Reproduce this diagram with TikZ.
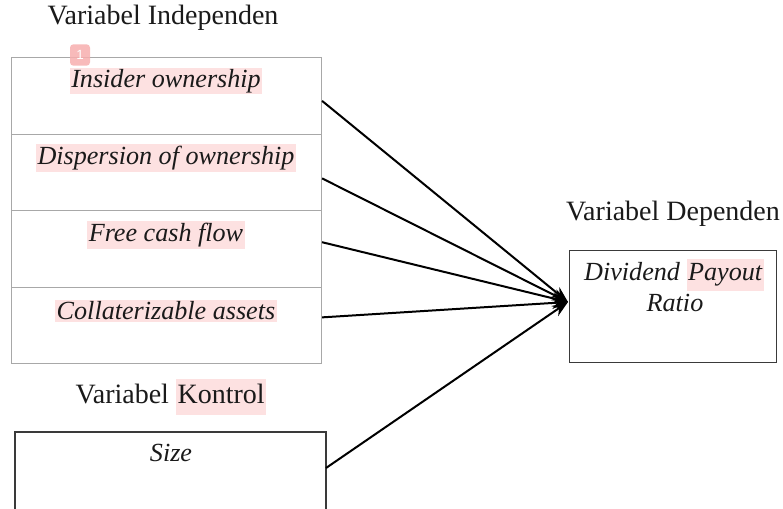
\documentclass[tikz,border=0pt]{standalone}
\usepackage{fontspec}
\setmainfont{Liberation Serif}
\setsansfont{Liberation Sans}
\usetikzlibrary{arrows.meta,calc}
\definecolor{hl}{HTML}{FDE1E1}
\definecolor{mk}{HTML}{F7AFAF}
\definecolor{gline}{HTML}{A8A8A8}
\definecolor{dline}{HTML}{3A3A3A}
\definecolor{txt}{HTML}{1A1A1A}
\newcommand\hlword[1]{{\setlength{\fboxsep}{1.2pt}\colorbox{hl}{\strut #1}}}
\tikzset{
  head/.style={font=\fontsize{21pt}{24pt}\selectfont, text=txt, inner sep=0pt},
  itl/.style={font=\fontsize{19.6pt}{22pt}\selectfont\itshape, text=txt, inner sep=1.2pt},
  hilite/.style={itl, fill=hl},
  gbox/.style={draw=gline, line width=0.8pt, minimum width=232.5pt, minimum height=57.5pt, anchor=north west, inner sep=0pt},
  dbox/.style={draw=dline, line width=0.9pt, anchor=north west, inner sep=0pt},
  conn/.style={line width=1.5pt, -{Stealth[length=12pt,width=9pt]}, black},
}
\begin{document}
\begin{tikzpicture}[x=0.75pt,y=-0.75pt]
\useasboundingbox (0,0) rectangle (783,508);
\fill[white] (0,0) rectangle (783,508);
\clip (0,0) rectangle (783,508);
% headings
\node[head] (hInd) at (163,18) {Variabel Independen};
\node[head] (hDep) at (673,214) {Variabel Dependen};
\node[head] (hKon) at (171,397) {Variabel \hlword{Kontrol}};
% independent stack
\node[gbox] (b1) at (11,57) {};
\node[gbox] (b2) at (11,133.5) {};
\node[gbox] (b3) at (11,210) {};
\node[gbox] (b4) at (11,286.5) {};
\node[hilite] (t1) at (166,81) {Insider ownership};
\node[hilite] (t2) at (166,158) {Dispersion of ownership};
\node[hilite] (t3) at (166,235) {Free cash flow};
\node[hilite] (t4) at (166,311) {Collaterizable assets};
% marker
\node[fill=mk, rounded corners=2.5pt, minimum width=15pt, minimum height=16pt, inner sep=0pt, text=white, font=\sffamily\fontsize{10pt}{10pt}\selectfont, opacity=0.85, text opacity=1] (m1) at (80,55) {1};
% control box (open at bottom, continues past page)
\coordinate (sNW) at (15,432);
\coordinate (sNE) at (326,432);
\draw[draw=dline, line width=0.9pt] (15,530) -- (sNW) -- (sNE) -- (326,530);
\coordinate (sOut) at (326,468);
\node[itl] (ts) at (171,453) {Size};
% dependent box
\node[dbox, minimum width=155.25pt, minimum height=84pt] (dep) at (569,250) {};
\node[itl] (td1) at (674,275) {Dividend \hlword{Payout}};
\node[itl] (td3) at (675,303) {Ratio};
\coordinate (tip) at (568,302);
% connectors
\draw[conn] ([yshift=-3.75pt]b1.east) -- (tip);
\draw[conn] ([yshift=-4.5pt]b2.east) -- (tip);
\draw[conn] ([yshift=5pt]b3.east) -- (tip);
\draw[conn] ([yshift=6pt]b4.east) -- (tip);
\draw[conn] (sOut) -- (tip);
\end{tikzpicture}
\end{document}
